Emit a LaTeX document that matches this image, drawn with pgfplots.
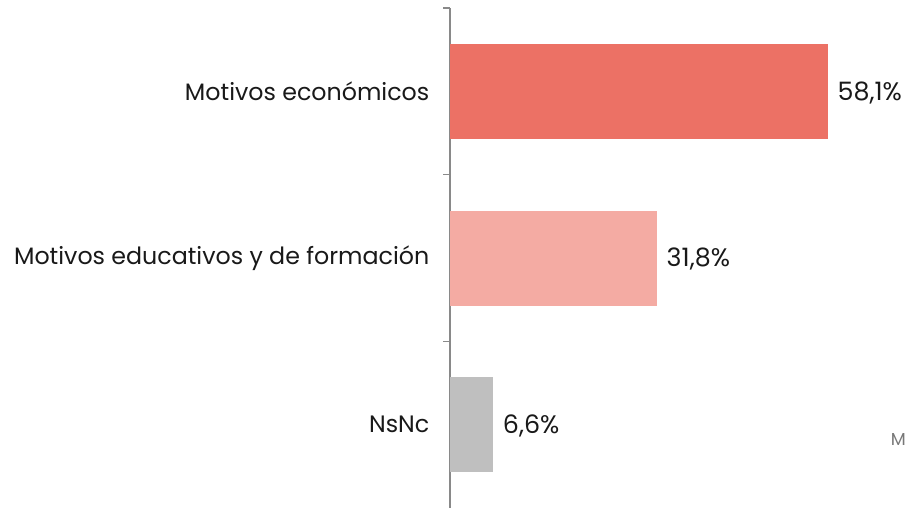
\documentclass[border=0pt]{standalone}
\usepackage{fontspec}
\setmainfont{Poppins}
\usepackage{pgfplots}
\pgfplotsset{compat=1.18}
\definecolor{bA}{RGB}{236,113,101}
\definecolor{bB}{RGB}{244,171,163}
\definecolor{bC}{RGB}{191,191,191}
\definecolor{axgray}{RGB}{137,137,137}
\definecolor{txt}{RGB}{25,25,25}
\begin{document}
\begin{tikzpicture}
\useasboundingbox (0,0) rectangle (681pt,381pt);
\begin{axis}[
  at={(337.5pt,0pt)}, anchor=south west,
  scale only axis,
  width=341.25pt, height=375pt,
  xmin=0, xmax=70,
  ymin=-0.5, ymax=2.5,
  y dir=reverse,
  axis y line*=left,
  axis x line=none,
  axis line style={axgray, line width=1.1pt},
  ytick={0,1,2},
  yticklabels={Motivos económicos, Motivos educativos y de formación, NsNc},
  major tick length=0pt,
  minor ytick={-0.5,0.5,1.5},
  minor tick length=5pt,
  minor tick style={axgray, line width=0.8pt},
  tick align=outside,
  yticklabel style={font=\fontsize{17.8}{20}\selectfont, text=txt, xshift=-12pt},
  xbar, bar width=0.57, bar shift=0pt,
  nodes near coords={\pgfmathprintnumber[fixed,fixed zerofill,precision=1,use comma,assume math mode=true]{\pgfplotspointmeta}\%},
  every node near coord/.append style={font=\fontsize{19}{22}\selectfont, text=txt, xshift=4pt, yshift=-1pt},
  clip=false,
]
\addplot[draw=none, fill=bA] coordinates {(58.1,0)};
\addplot[draw=none, fill=bB] coordinates {(31.8,1)};
\addplot[draw=none, fill=bC] coordinates {(6.6,2)};
\end{axis}
\node[anchor=east, text={rgb,255:red,120;green,120;blue,120}, font=\fontsize{13}{15}\selectfont, inner sep=0pt] at (679.5pt,51.5pt) {M};
\end{tikzpicture}
\end{document}
